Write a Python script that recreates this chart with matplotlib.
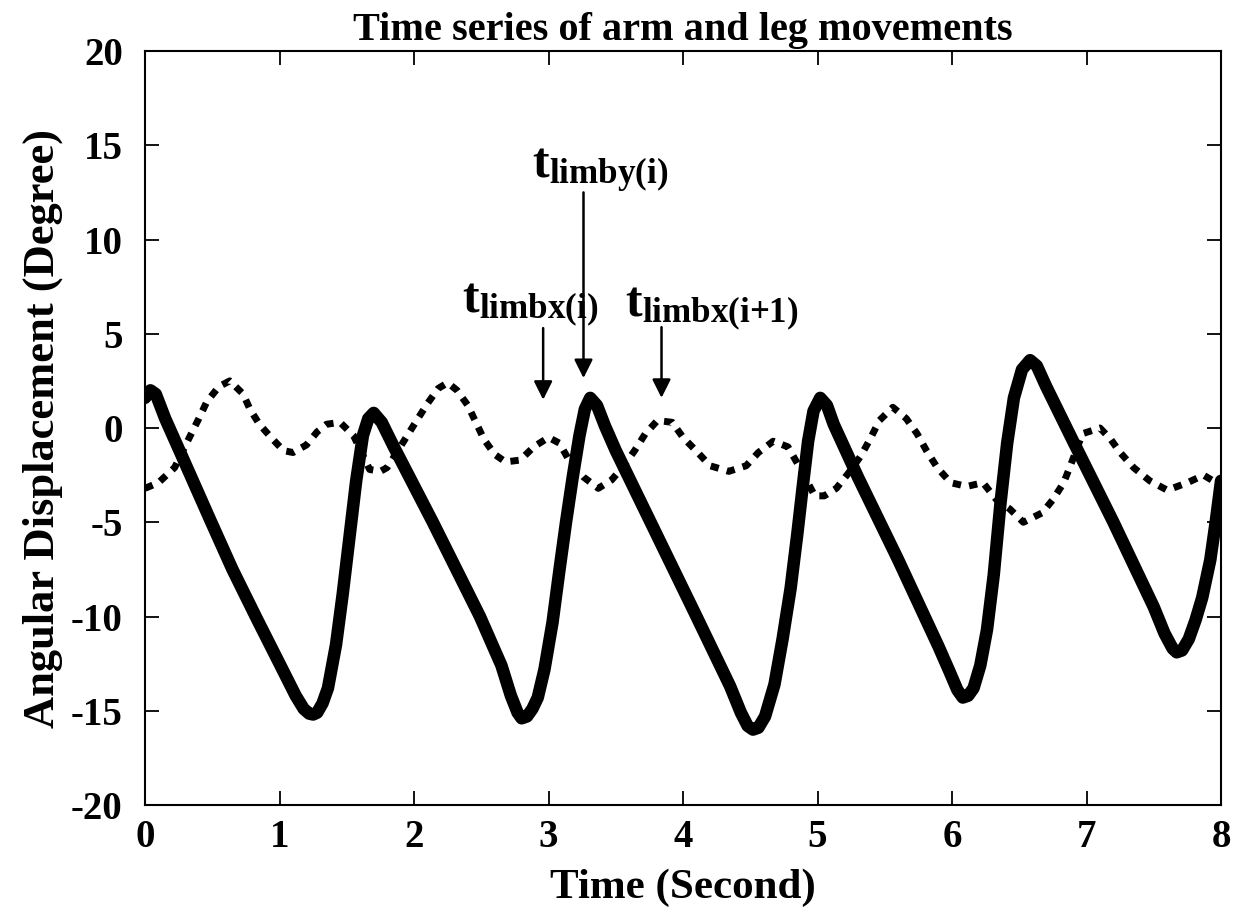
import matplotlib
matplotlib.use("Agg")
import matplotlib.pyplot as plt

plt.rcParams['font.family'] = ['Liberation Serif', 'DejaVu Serif']
plt.rcParams['font.weight'] = 'bold'
plt.rcParams['axes.unicode_minus'] = False
plt.rcParams['mathtext.fontset'] = 'custom'
plt.rcParams['mathtext.rm'] = 'Liberation Serif:bold'
plt.rcParams['mathtext.bf'] = 'Liberation Serif:bold'
plt.rcParams['mathtext.it'] = 'Liberation Serif:bold'

# solid curve
solid_t = [0.00, 0.04, 0.08, 0.15, 0.30, 0.48, 0.65, 0.83, 1.00, 1.12,
           1.18, 1.22, 1.25, 1.28, 1.32, 1.36, 1.42, 1.47, 1.52, 1.57,
           1.62, 1.66, 1.70, 1.76, 1.85, 2.14, 2.49, 2.65, 2.72, 2.77,
           2.80, 2.84, 2.88, 2.92, 2.97, 3.03, 3.08, 3.13, 3.18, 3.23,
           3.27, 3.31, 3.36, 3.42, 3.50, 3.80, 4.10, 4.35, 4.43, 4.48,
           4.52, 4.56, 4.61, 4.68, 4.74, 4.80, 4.85, 4.89, 4.93, 4.97,
           5.02, 5.07, 5.12, 5.30, 5.60, 5.90, 5.98, 6.04, 6.08, 6.12,
           6.16, 6.21, 6.26, 6.31, 6.36, 6.41, 6.46, 6.52, 6.58, 6.63,
           6.70, 6.90, 7.20, 7.50, 7.58, 7.64, 7.67, 7.71, 7.76, 7.81,
           7.86, 7.92, 7.96, 8.00]
solid_y = [1.6, 2.0, 1.8, 0.5, -1.9, -4.8, -7.5, -10.1, -12.5, -14.2,
           -14.9, -15.15, -15.2, -15.1, -14.6, -13.8, -11.5, -8.8, -5.8, -2.8,
           -0.4, 0.5, 0.8, 0.3, -1.0, -5.0, -10.0, -12.6, -14.2, -15.1,
           -15.4, -15.3, -14.9, -14.3, -12.8, -10.3, -7.6, -5.0, -2.6, -0.4,
           1.0, 1.6, 1.2, 0.1, -1.2, -5.6, -10.0, -13.7, -15.1, -15.8,
           -16.0, -15.9, -15.3, -13.6, -11.2, -8.5, -5.6, -3.1, -0.7, 0.9,
           1.6, 1.2, 0.2, -2.6, -7.0, -11.6, -12.9, -13.9, -14.3, -14.2,
           -13.8, -12.6, -10.7, -7.8, -4.0, -0.8, 1.6, 3.1, 3.6, 3.3,
           2.2, -0.7, -5.0, -9.5, -10.9, -11.7, -11.9, -11.8, -11.2, -10.2,
           -9.0, -7.0, -5.0, -2.8]

# dotted curve
dot_t = [0.00, 0.10, 0.22, 0.33, 0.40, 0.46, 0.55, 0.63, 0.73, 0.78,
         0.85, 0.95, 1.03, 1.10, 1.20, 1.28, 1.35, 1.45, 1.55, 1.67,
         1.75, 1.80, 1.88, 1.95, 2.02, 2.10, 2.18, 2.25, 2.32, 2.40,
         2.46, 2.52, 2.60, 2.68, 2.79, 2.89, 3.00, 3.08, 3.16, 3.26,
         3.37, 3.47, 3.56, 3.64, 3.72, 3.81, 3.92, 4.00, 4.11, 4.20,
         4.34, 4.47, 4.56, 4.67, 4.78, 4.86, 4.98, 5.05, 5.14, 5.24,
         5.32, 5.39, 5.46, 5.56, 5.66, 5.74, 5.81, 5.89, 5.99, 6.11,
         6.23, 6.33, 6.43, 6.53, 6.67, 6.75, 6.83, 6.88, 6.97, 7.10,
         7.18, 7.25, 7.35, 7.47, 7.60, 7.75, 7.87, 7.94, 8.00]
dot_y = [-3.2, -2.9, -2.1, -0.5, 0.5, 1.4, 2.2, 2.5, 1.8, 1.0,
         0.2, -0.6, -1.2, -1.3, -0.9, -0.2, 0.2, 0.3, -0.4, -2.2,
         -2.3, -2.1, -1.2, -0.4, 0.4, 1.3, 2.1, 2.4, 2.0, 1.2,
         0.3, -0.6, -1.4, -1.8, -1.7, -1.0, -0.5, -0.8, -1.8, -2.6,
         -3.2, -2.75, -2.0, -1.2, -0.3, 0.4, 0.3, -0.5, -1.3, -2.0,
         -2.3, -2.0, -1.3, -0.7, -1.0, -2.0, -3.6, -3.6, -3.2, -2.3,
         -1.5, -0.6, 0.4, 1.1, 0.5, -0.3, -1.2, -2.1, -2.9, -3.1,
         -2.9, -3.8, -4.3, -5.0, -4.5, -3.8, -2.9, -2.0, -0.3, 0.0,
         -0.6, -1.3, -2.1, -2.8, -3.3, -2.9, -2.5, -2.8, -3.0]

xticks = [0, 1, 2, 3, 4, 5, 6, 7, 8]
yticks = [-20, -15, -10, -5, 0, 5, 10, 15, 20]

# annotations: label, text pos, arrow x, arrow top, arrow tip
labels = [r'$\mathbf{t}_{\mathbf{limbx(i)}}$',
          r'$\mathbf{t}_{\mathbf{limby(i)}}$',
          r'$\mathbf{t}_{\mathbf{limbx(i{+}1)}}$']
label_x = [2.36, 2.88, 3.57]
label_y = [6.15, 13.26, 5.9]
arrow_x = [2.96, 3.26, 3.84]
arrow_top = [5.3, 12.5, 5.35]
arrow_tip = [1.5, 2.65, 1.6]

fig = plt.figure(figsize=(12.48, 9.13), dpi=100)
ax = fig.add_axes([0.1162, 0.1183, 0.8622, 0.8258])

ax.plot(dot_t, dot_y, color='black', lw=5, linestyle=(0, (1.2, 1.2)),
        dash_capstyle='butt')
ax.plot(solid_t, solid_y, color='black', lw=9, solid_capstyle='round',
        solid_joinstyle='round')

for i in range(len(labels)):
    ax.text(label_x[i], label_y[i], labels[i], fontsize=36,
            ha='left', va='baseline')
    ax.annotate('', xy=(arrow_x[i], arrow_tip[i]),
                xytext=(arrow_x[i], arrow_top[i]),
                arrowprops=dict(arrowstyle='-|>', lw=1.8, color='black',
                                mutation_scale=28, shrinkA=0, shrinkB=0))

ax.set_xlim(0, 8)
ax.set_ylim(-20, 20)
ax.set_xticks(xticks)
ax.set_yticks(yticks)
ax.tick_params(direction='in', length=10, width=1.3, labelsize=28,
               top=True, right=True)
ax.tick_params(axis='x', pad=10)
ax.tick_params(axis='y', pad=16)
for s in ax.spines.values():
    s.set_linewidth(1.5)

ax.set_title('Time series of arm and leg movements', fontsize=29,
             fontweight='bold', pad=8)
ax.set_xlabel('Time (Second)', fontsize=31, fontweight='bold', labelpad=9)
ax.set_ylabel('Angular Displacement (Degree)', fontsize=32,
              fontweight='bold', labelpad=6)

fig.savefig('out.png', dpi=100)
